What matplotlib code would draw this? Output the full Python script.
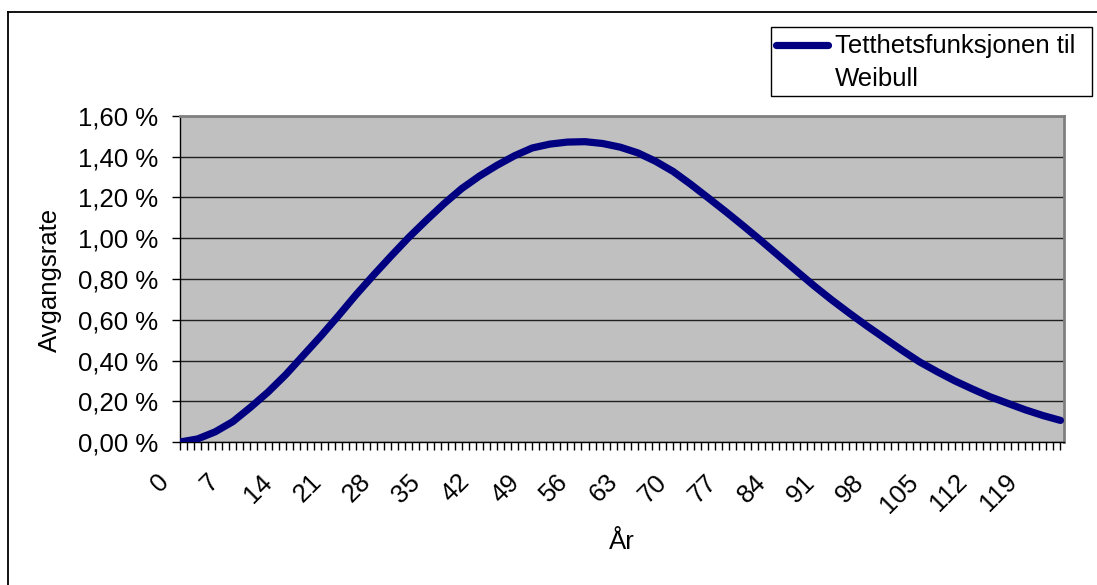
import matplotlib.pyplot as plt
from matplotlib.lines import Line2D
from matplotlib.patches import Rectangle
from matplotlib.ticker import FuncFormatter, MultipleLocator
from matplotlib.transforms import ScaledTranslation

plt.rcParams['font.family'] = ['Liberation Sans', 'DejaVu Sans']

# Data (age in years, density in %)
years = [0, 2.5, 5, 7.5, 10, 12.5, 15, 17.5, 20, 22.5, 25, 27.5, 30, 32.5, 35, 37.5,
         40, 42.5, 45, 47.5, 50, 52.5, 55, 57.5, 60, 62.5, 65, 67.5, 70, 72.5, 75, 77.5,
         80, 82.5, 85, 87.5, 90, 92.5, 95, 97.5, 100, 102.5, 105, 107.5, 110, 112.5,
         115, 117.5, 120, 122.5, 125]
density = [0.0, 0.015, 0.05, 0.10, 0.17, 0.245, 0.33, 0.425, 0.52, 0.62, 0.723, 0.82,
           0.914, 1.005, 1.089, 1.17, 1.244, 1.305, 1.358, 1.405, 1.443, 1.462, 1.472,
           1.474, 1.465, 1.447, 1.419, 1.378, 1.328, 1.265, 1.198, 1.13, 1.06, 0.988,
           0.914, 0.84, 0.767, 0.698, 0.633, 0.57, 0.51, 0.45, 0.393, 0.345, 0.30, 0.26,
           0.222, 0.19, 0.158, 0.13, 0.106]
label_step = 7
legend_lines = ["Tetthetsfunksjonen til", "Weibull"]

FS = 18.5
W, H = 1097, 585
fig = plt.figure(figsize=(W / 100, H / 100), dpi=100)
fig.patch.set_facecolor('white')

def fx(px):
    return px / W

def fy(py):
    return 1 - py / H

# outer chart border (runs off the right and bottom edge)
fig.add_artist(Line2D([fx(8), fx(8)], [fy(12), 0], color='black', lw=1.3))
fig.add_artist(Line2D([fx(8), 1], [fy(12), fy(12)], color='black', lw=1.3))

left, right, top, bottom = 180, 1064, 116, 442
ax = fig.add_axes([fx(left), fy(bottom), fx(right - left), (bottom - top) / H])
ax.set_facecolor('#C0C0C0')

ax.plot(years, density, color='#000080', lw=5.2, solid_capstyle='round',
        solid_joinstyle='round', zorder=3)

ax.set_xlim(0, 125.5)
ax.set_ylim(0, 1.6)
ax.yaxis.set_major_locator(MultipleLocator(0.2))
ax.yaxis.set_major_formatter(FuncFormatter(lambda v, p: f"{v:.2f} %".replace('.', ',')))
ax.grid(axis='y', color='#202020', lw=1.0)
ax.set_axisbelow(True)

ax.set_xticks(range(0, 126, label_step))
ax.set_xticks(range(0, 126), minor=True)
ax.tick_params(axis='x', which='both', direction='out', length=6, width=1, color='black')
ax.tick_params(axis='x', which='major', pad=14, labelsize=FS)
ax.tick_params(axis='y', direction='out', length=5.5, width=1, pad=10, labelsize=FS)
for lab in ax.get_xticklabels():
    lab.set_rotation(45)
    lab.set_ha('center')
    lab.set_va('top')
    lab.set_transform(lab.get_transform() + ScaledTranslation(-0.2, 0, fig.dpi_scale_trans))

for side in ['top', 'right']:
    ax.spines[side].set_color('#808080')
    ax.spines[side].set_linewidth(2)
for side in ['left', 'bottom']:
    ax.spines[side].set_color('black')
    ax.spines[side].set_linewidth(1)

fig.text(fx(50), fy(280), "Avgangsrate", rotation=90, ha='center', va='center', fontsize=FS)
fig.text(fx(622), fy(542), "År", ha='center', va='center', fontsize=FS)

# legend box
fig.add_artist(Rectangle((fx(771), fy(96)), fx(1092 - 771), (96 - 27) / H,
                         facecolor='white', edgecolor='black', lw=1))
fig.add_artist(Line2D([fx(776), fx(828)], [fy(45), fy(45)], color='#000080', lw=5.2,
                      solid_capstyle='round'))
for i, line in enumerate(legend_lines):
    fig.text(fx(835), fy(53.5 + 33 * i), line, ha='left', va='baseline', fontsize=FS)

fig.savefig("out.png", dpi=100)
